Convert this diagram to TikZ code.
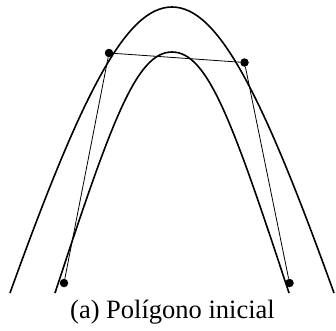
\documentclass[tikz,border=0pt]{standalone}
\usepackage{fontspec}
\setmainfont{Liberation Serif}
\usepackage{tikz}
\usetikzlibrary{positioning}

\begin{document}
\begin{tikzpicture}[
    x=1pt, y=-1pt,
    curve/.style={draw=black, line width=1.6pt},
    poly/.style={draw=black, line width=0.8pt},
    dot/.style={circle, fill=black, inner sep=0pt, minimum size=8.5pt},
    caption/.style={font=\fontsize{26.5}{30}\selectfont, anchor=base}
]
\useasboundingbox (0,0) rectangle (336,330);

% Curves
\draw[curve] (10,293) .. controls (82,93) and (126,7) .. (172,7)
    .. controls (218,7) and (262,93) .. (334,293);
\draw[curve] (55,293) .. controls (111,123) and (136,52) .. (172,52)
    .. controls (208,52) and (233,123) .. (289,293);

% Control points
\node[dot] (p0) at (64,283) {};
\node[dot] (p1) at (109,53) {};
\node[dot] (p2) at (244.5,62.5) {};
\node[dot] (p3) at (289.5,283) {};

% Polygon
\draw[poly] (p0) -- (p1);
\draw[poly] (p1) -- (p2);
\draw[poly] (p2) -- (p3);

% Caption
\node[caption] (cap) at (172.5,318) {(a) Polígono inicial};

\end{tikzpicture}
\end{document}
